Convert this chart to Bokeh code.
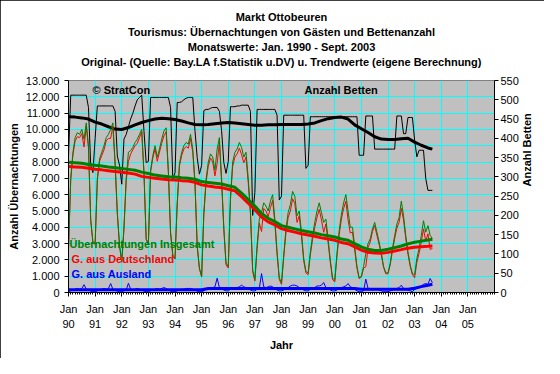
import math
from bokeh.plotting import figure
from bokeh.models import Range1d, LinearAxis, FixedTicker, Grid, Label, Title
from bokeh.embed import file_html
from bokeh.resources import INLINE

# ---------------- data ----------------
# month index: 0 = Jan 1990 ... 164 = Sep 2003
monate = list(range(165))

insgesamt = [
    2700, 7000, 8600, 9500, 9800, 9700, 10000, 9400, 10400, 9000, 4500, 3100,   # 1990
    3000, 7000, 8200, 8600, 9000, 9500, 9700, 10000, 10400, 8000, 4900, 2900,   # 1991
    1900, 4000, 7000, 8600, 8700, 8900, 9200, 9400, 9700, 10000, 7400, 3300,    # 1992
    3000, 7500, 8400, 9000, 8300, 8800, 9400, 9900, 10100, 7500, 3700, 2300,    # 1993
    2100, 5500, 7900, 8600, 9000, 9200, 9100, 9700, 8800, 6800, 2900, 1500,     # 1994
    1000, 4900, 6950, 8000, 8500, 8300, 7500, 8800, 9500, 7000, 4000, 1800,     # 1995
    1600, 5900, 8000, 8600, 8800, 9200, 8900, 8300, 8600, 7000, 5000, 1400,     # 1996
    800, 2900, 4500, 4900, 5500, 5300, 5000, 5600, 6000, 4500, 2500, 900,       # 1997
    600, 2300, 3900, 4900, 5400, 6200, 5900, 4700, 5000, 3700, 2100, 1300,      # 1998
    1200, 2500, 3500, 4300, 5000, 5500, 4900, 4300, 4500, 3300, 2000, 900,      # 1999
    750, 2400, 3800, 4800, 5500, 6000, 5000, 4000, 4000, 2800, 1600, 900,       # 2000
    1000, 1600, 2400, 3000, 3300, 3900, 4300, 3700, 3100, 2400, 1600, 1200,     # 2001
    1200, 1800, 2700, 3500, 4200, 4600, 5600, 4700, 3500, 2500, 1700, 1150,     # 2002
    1100, 2100, 2700, 3500, 4400, 3700, 4100, 3500, 3300,                       # 2003
]

deutschland = [
    2640, 6900, 8450, 9300, 9550, 9500, 9750, 8920, 10200, 8850, 4420, 3050,
    2950, 6900, 8050, 8400, 8750, 9300, 9450, 9450, 10200, 7850, 4820, 2850,
    1850, 3900, 6850, 8030, 8500, 8750, 9000, 9150, 9500, 9850, 7320, 3250,
    2950, 7400, 8250, 8800, 8050, 8600, 9150, 9600, 9850, 7350, 3620, 2250,
    2050, 5400, 7750, 8400, 8800, 8950, 8850, 9450, 8600, 6650, 2820, 1450,
    950, 4800, 6750, 7750, 8250, 8000, 7150, 7920, 9200, 6750, 3850, 1700,
    1500, 5700, 7750, 8300, 8500, 8850, 8450, 7950, 8300, 6750, 4850, 1300,
    700, 2700, 4250, 3740, 5150, 5000, 4650, 5200, 5650, 4250, 2350, 800,
    500, 2150, 3650, 4600, 5000, 5750, 5450, 4300, 4700, 3450, 1950, 1200,
    1100, 2300, 3250, 4000, 4600, 5100, 4450, 3690, 4200, 3050, 1850, 800,
    650, 2250, 3550, 4500, 5150, 5600, 4450, 3650, 3700, 2600, 1500, 850,
    950, 1500, 1580, 2750, 3100, 3750, 4100, 3500, 2950, 2300, 1550, 1150,
    1150, 1700, 2550, 3300, 3950, 4300, 5150, 4450, 3300, 2350, 1600, 1100,
    900, 1850, 2400, 3100, 3900, 3150, 3600, 2640, 2700,
]

ausland = [
    60, 100, 150, 200, 250, 200, 250, 480, 200, 150, 80, 50,
    50, 100, 150, 200, 250, 200, 250, 550, 200, 150, 80, 50,
    50, 100, 150, 570, 200, 150, 200, 250, 200, 150, 80, 50,
    50, 100, 150, 200, 250, 200, 250, 300, 250, 150, 80, 50,
    50, 100, 150, 200, 200, 250, 250, 250, 200, 150, 80, 50,
    50, 100, 200, 250, 250, 300, 350, 880, 300, 250, 150, 100,
    100, 200, 250, 300, 300, 350, 450, 350, 300, 250, 150, 100,
    100, 200, 250, 1160, 350, 300, 350, 400, 350, 250, 150, 100,
    100, 150, 250, 300, 400, 450, 450, 400, 300, 250, 150, 100,
    100, 200, 250, 300, 400, 400, 450, 610, 300, 250, 150, 100,
    100, 150, 250, 300, 350, 400, 550, 350, 300, 200, 100, 50,
    50, 100, 820, 250, 200, 150, 200, 200, 150, 100, 50, 50,
    50, 100, 150, 200, 250, 300, 450, 250, 200, 150, 100, 50,
    200, 250, 300, 400, 500, 550, 500, 860, 600,
]

betten = [
    354, 512, 512, 512, 512, 512, 512, 512, 512, 480, 330, 311,
    400, 484, 484, 484, 484, 484, 484, 484, 484, 470, 354, 330,
    281, 398, 410, 430, 450, 465, 484, 500, 506, 512, 420, 337,
    340, 506, 506, 506, 506, 506, 506, 506, 506, 506, 480, 294,
    311, 493, 493, 495, 500, 504, 506, 506, 506, 420, 350, 307,
    330, 472, 475, 475, 478, 480, 480, 480, 470, 420, 337, 309,
    340, 482, 482, 482, 484, 484, 486, 486, 486, 486, 470, 200,
    260, 475, 475, 475, 475, 475, 475, 475, 475, 475, 460, 240,
    250, 460, 460, 460, 460, 460, 460, 460, 460, 460, 460, 322,
    330, 456, 456, 456, 456, 456, 456, 456, 456, 456, 456, 456,
    456, 456, 456, 456, 456, 456, 456, 456, 456, 456, 456, 356,
    356, 356, 458, 458, 458, 458, 372, 372, 372, 372, 372, 372,
    372, 372, 372, 372, 458, 458, 458, 412, 412, 454, 454, 454,
    395, 352, 369, 369, 369, 296, 265, 265, 265,
]

# trend values (quarterly readings of the thick lines)
trend_monate = [0, 3, 6, 9, 12, 15, 18, 21, 24, 27, 30, 33, 36, 39, 42, 45, 48, 51, 54,
                57, 60, 63, 66, 69, 72, 75, 78, 81, 84, 87, 90, 93, 96, 99, 102, 105,
                108, 111, 114, 117, 120, 123, 126, 129, 132, 135, 138, 141, 144, 147,
                150, 153, 156, 159, 162, 164]

trend_insgesamt = [7980, 7950, 7920, 7850, 7800, 7760, 7700, 7650, 7600, 7550, 7500, 7380,
                   7300, 7200, 7150, 7100, 7080, 7030, 7000, 6950, 6800, 6750, 6700, 6650,
                   6550, 6450, 6100, 5700, 5300, 4850, 4550, 4350, 4100, 4000, 3900, 3800,
                   3720, 3650, 3550, 3480, 3400, 3280, 3200, 3000, 2800, 2650, 2580, 2580,
                   2650, 2750, 2850, 2980, 3080, 3150, 3220, 3270]

trend_deutschland = [7720, 7700, 7680, 7620, 7560, 7520, 7470, 7420, 7370, 7330, 7260, 7120,
                     7060, 7000, 6960, 6920, 6900, 6860, 6830, 6760, 6600, 6530, 6470, 6430,
                     6330, 6230, 5880, 5480, 5080, 4630, 4330, 4150, 3920, 3800, 3700, 3600,
                     3520, 3450, 3350, 3280, 3200, 3070, 2990, 2800, 2600, 2470, 2420, 2400,
                     2460, 2550, 2630, 2720, 2780, 2810, 2830, 2850]

trend_ausland = [170, 170, 170, 170, 170, 170, 170, 170, 170, 170, 170, 170, 170, 170, 170,
                 170, 170, 170, 170, 170, 170, 245, 245, 245, 245, 245, 245, 245, 245, 245,
                 245, 245, 245, 245, 245, 245, 245, 245, 245, 245, 245, 245, 245, 245, 200,
                 200, 200, 200, 200, 200, 200, 200, 260, 360, 450, 510]

trend_betten = [456, 455, 453, 450, 442, 437, 430, 424, 423, 428, 435, 441, 446, 450, 452,
                451, 449, 445, 440, 436, 435, 436, 438, 440, 441, 440, 438, 436, 434, 434,
                435, 435, 436, 436, 436, 436, 437, 440, 446, 451, 454, 455, 450, 435, 425,
                415, 404, 398, 397, 397, 399, 400, 390, 382, 375, 372]

x_ticks = [0, 12, 24, 36, 48, 60, 72, 84, 96, 108, 120, 132, 144, 156, 168, 180]
x_tick_labels = ["Jan\n90", "Jan\n91", "Jan\n92", "Jan\n93", "Jan\n94", "Jan\n95",
                 "Jan\n96", "Jan\n97", "Jan\n98", "Jan\n99", "Jan\n00", "Jan\n01",
                 "Jan\n02", "Jan\n03", "Jan\n04", "Jan\n05"]
y_ticks = [0, 1000, 2000, 3000, 4000, 5000, 6000, 7000, 8000, 9000, 10000, 11000, 12000, 13000]
y_tick_labels = ["0", "1.000", "2.000", "3.000", "4.000", "5.000", "6.000", "7.000",
                 "8.000", "9.000", "10.000", "11.000", "12.000", "13.000"]
y2_ticks = [0, 50, 100, 150, 200, 250, 300, 350, 400, 450, 500, 550]

titel = ["Markt Ottobeuren",
         "Tourismus: Übernachtungen von Gästen und Bettenanzahl",
         "Monatswerte: Jan. 1990 - Sept. 2003",
         "Original- (Quelle: Bay.LA f.Statistik u.DV) u. Trendwerte (eigene Berechnung)"]

# ---------------- figure ----------------
FONT = "Liberation Sans"
GREEN, RED, BLUE = "#008000", "#FF0000", "#0000FF"

p = figure(width=544, height=358, output_backend="svg", toolbar_location=None,
           x_range=Range1d(0, 192), y_range=Range1d(0, 13000),
           x_axis_type=None, y_axis_type=None,
           min_border_left=68, min_border_right=50, min_border_top=80, min_border_bottom=66,
           background_fill_color="#C0C0C0", border_fill_color="white")
p.outline_line_color = "#808080"
p.styles = {"outline": "1px solid black", "outline-offset": "-1px"}
p.extra_y_ranges = {"beds": Range1d(0, 550)}

xticker = FixedTicker(ticks=x_ticks, minor_ticks=monate + list(range(165, 193)))
yticker = FixedTicker(ticks=y_ticks, minor_ticks=[])
y2ticker = FixedTicker(ticks=y2_ticks, minor_ticks=[])

p.add_layout(Grid(dimension=0, ticker=xticker, grid_line_color="#00FFFF", grid_line_width=1))
p.add_layout(Grid(dimension=1, ticker=yticker, grid_line_color="#00FFFF", grid_line_width=1))

def style_axis(ax):
    ax.axis_line_color = "black"
    ax.major_tick_line_color = "black"
    ax.minor_tick_line_color = "black"
    ax.major_tick_in = 0
    ax.major_tick_out = 4
    ax.minor_tick_in = 0
    ax.minor_tick_out = 2
    ax.major_label_text_font = FONT
    ax.major_label_text_font_size = "11px"
    ax.major_label_text_color = "black"
    ax.axis_label_text_font = FONT
    ax.axis_label_text_font_size = "11px"
    ax.axis_label_text_font_style = "bold"
    ax.axis_label_text_color = "black"

xaxis = LinearAxis(ticker=xticker, major_label_overrides=dict(zip(x_ticks, x_tick_labels)),
                   axis_label="Jahr")
style_axis(xaxis)
xaxis.major_label_standoff = 6
xaxis.major_label_text_line_height = 1.27
xaxis.axis_label_standoff = 6
p.add_layout(xaxis, "below")

yaxis = LinearAxis(ticker=yticker, major_label_overrides=dict(zip(y_ticks, y_tick_labels)),
                   axis_label="Anzahl Übernachtungen")
style_axis(yaxis)
yaxis.major_label_standoff = 5
yaxis.axis_label_standoff = 3
p.add_layout(yaxis, "left")

y2axis = LinearAxis(y_range_name="beds", ticker=y2ticker, axis_label="Anzahl Betten")
style_axis(y2axis)
y2axis.major_label_standoff = 2
y2axis.axis_label_standoff = 5
y2axis.axis_label_orientation = math.pi / 2
p.add_layout(y2axis, "right")

# small spacer between frame and the title block
p.add_layout(Title(text=" ", text_font=FONT, text_font_size="8px", standoff=1), "above")
# titles: added from the bottom line upwards
for t in reversed(titel):
    p.add_layout(Title(text=t, align="center", offset=-20, standoff=1,
                       text_font=FONT, text_font_size="11px", text_font_style="bold",
                       text_color="black"), "above")

# ---------------- series ----------------
p.line(monate, betten, y_range_name="beds", line_color="black", line_width=1)
p.line(trend_monate, trend_betten, y_range_name="beds", line_color="black", line_width=3)
p.line(monate, deutschland, line_color=RED, line_width=1)
p.line(monate, insgesamt, line_color=GREEN, line_width=1)
p.line(trend_monate, trend_deutschland, line_color=RED, line_width=3)
p.line(trend_monate, trend_insgesamt, line_color=GREEN, line_width=3)
p.line(monate, ausland, line_color=BLUE, line_width=1)
p.line(trend_monate, trend_ausland, line_color=BLUE, line_width=3)

# ---------------- texts inside the plot area ----------------
def lab(x, y, txt, color="black"):
    p.add_layout(Label(x=x, y=y, x_units="canvas", y_units="canvas", text=txt,
                       text_font=FONT, text_font_size="11px", text_color=color,
                       text_font_style="bold", text_align="left", text_baseline="middle"))

lab(69, 243, "Übernachtungen Insgesamt", GREEN)
lab(71, 258, "G. aus Deutschland", RED)
lab(71, 273, "G. aus Ausland", BLUE)
lab(92, 89, "© StratCon")
lab(304, 89.5, "Anzahl Betten")

open("out.html", "w").write(file_html(p, INLINE))
